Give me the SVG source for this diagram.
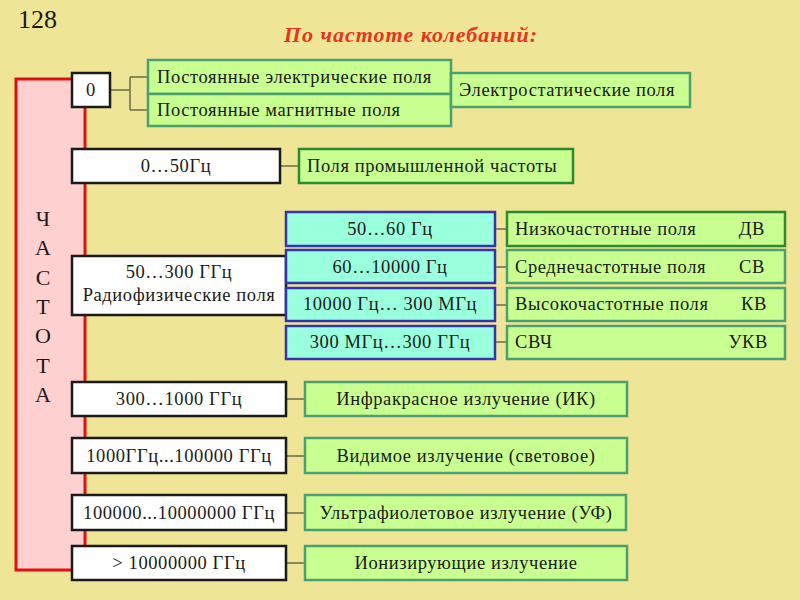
<svg xmlns="http://www.w3.org/2000/svg" width="800" height="600" viewBox="0 0 800 600">
<style>
text{font-family:"Liberation Serif","Times New Roman",serif;font-size:18.5px;letter-spacing:0.6px;fill:#1a1a1a;dominant-baseline:central}
.c{text-anchor:middle}
.r{text-anchor:end}
.v{font-size:22px;letter-spacing:0}
.w{fill:#fff;stroke:#1a1a1a;stroke-width:2.5}
.g{fill:#c8ff90;stroke:#4e9f6e;stroke-width:2.5}
.gd{fill:#c8ff90;stroke:#2f8a2f;stroke-width:2.5}
.b{fill:#99ffdd;stroke:#3434b0;stroke-width:2.5}
.ln{stroke:#6b6b45;stroke-width:1.5;fill:none}
</style>
<rect width="800" height="600" fill="#eee596"/>
<text x="18" y="19" style="font-size:26px;letter-spacing:0">128</text>
<text x="411" y="34" class="c" style="font-size:22px;letter-spacing:1px;font-weight:bold;font-style:italic;fill:#e8341c">По частоте колебаний:</text>

<g id="frame">
<rect x="16" y="79" width="69" height="491" fill="#ffd0d0"/>
<path d="M72 79H16V570H72M85 79V570" fill="none" stroke="#e01010" stroke-width="3"/>
<text x="43" y="218" class="c v">Ч</text>
<text x="43" y="247" class="c v">А</text>
<text x="43" y="277" class="c v">С</text>
<text x="43" y="306" class="c v">Т</text>
<text x="43" y="335" class="c v">О</text>
<text x="43" y="365" class="c v">Т</text>
<text x="43" y="394" class="c v">А</text>
</g>

<g id="connectors">
<path class="ln" d="M110 90H130M130 77V110M130 77H148M130 110H148"/>
<path class="ln" d="M280 166H299"/>
<path class="ln" d="M495 229H507M495 267H507M495 305H507M495 342H507"/>
<path class="ln" d="M286 399H305M286 456H305M286 513H305M286 563H305"/>
</g>

<g id="n0"><rect class="w" x="72" y="73" width="38" height="34"/><text x="91" y="90" class="c">0</text></g>
<g id="n_el"><rect class="g" x="148" y="60" width="303" height="34"/><text x="157" y="77">Постоянные электрические поля</text></g>
<g id="n_mag"><rect class="g" x="148" y="94" width="303" height="32"/><text x="157" y="110">Постоянные магнитные поля</text></g>
<g id="n_est"><rect class="g" x="451" y="73" width="239" height="34"/><text x="459" y="90">Электростатические поля</text></g>

<g id="n050"><rect class="w" x="72" y="149" width="208" height="34"/><text x="176" y="166" class="c">0…50Гц</text></g>
<g id="n_prom"><rect class="gd" x="299" y="149" width="274" height="34"/><text x="307" y="166">Поля промышленной частоты</text></g>

<g id="n_radio"><rect class="w" x="72" y="256" width="214" height="59"/><text x="179" y="272" class="c">50…300 ГГц</text><text x="179" y="295" class="c">Радиофизические поля</text></g>

<g id="b1"><rect class="b" x="286" y="212" width="209" height="34"/><text x="390" y="229" class="c">50…60 Гц</text></g>
<g id="b2"><rect class="b" x="286" y="250" width="209" height="33"/><text x="390" y="267" class="c">60…10000 Гц</text></g>
<g id="b3"><rect class="b" x="286" y="288" width="209" height="33"/><text x="390" y="304" class="c">10000 Гц… 300 МГц</text></g>
<g id="b4"><rect class="b" x="286" y="326" width="209" height="33"/><text x="390" y="342" class="c">300 МГц…300 ГГц</text></g>

<g id="r1"><rect class="gd" x="507" y="212" width="278" height="34"/><text x="515" y="229">Низкочастотные поля</text><text x="765" y="229" class="r">ДВ</text></g>
<g id="r2"><rect class="g" x="507" y="250" width="278" height="33"/><text x="515" y="267">Среднечастотные поля</text><text x="765" y="267" class="r">СВ</text></g>
<g id="r3"><rect class="g" x="507" y="288" width="278" height="33"/><text x="515" y="304">Высокочастотные поля</text><text x="767" y="304" class="r">КВ</text></g>
<g id="r4"><rect class="g" x="507" y="326" width="278" height="33"/><text x="515" y="342">СВЧ</text><text x="768" y="342" class="r">УКВ</text></g>

<g id="n_ir"><rect class="w" x="72" y="382" width="214" height="34"/><text x="179" y="399" class="c">300…1000 ГГц</text></g>
<g id="n_vis"><rect class="w" x="72" y="438" width="214" height="35"/><text x="179" y="456" class="c">1000ГГц...100000 ГГц</text></g>
<g id="n_uv"><rect class="w" x="72" y="495" width="214" height="35"/><text x="179" y="513" class="c">100000...10000000 ГГц</text></g>
<g id="n_ion"><rect class="w" x="72" y="546" width="214" height="34"/><text x="179" y="563" class="c">&gt; 10000000 ГГц</text></g>

<g id="g_ir"><rect class="g" x="305" y="382" width="322" height="34"/><text x="466" y="399" class="c">Инфракрасное излучение (ИК)</text></g>
<g id="g_vis"><rect class="g" x="305" y="438" width="322" height="35"/><text x="466" y="456" class="c">Видимое излучение (световое)</text></g>
<g id="g_uv"><rect class="g" x="305" y="495" width="321" height="35"/><text x="466" y="513" class="c">Ультрафиолетовое излучение (УФ)</text></g>
<g id="g_ion"><rect class="g" x="305" y="546" width="322" height="34"/><text x="466" y="563" class="c">Ионизирующие излучение</text></g>
</svg>
